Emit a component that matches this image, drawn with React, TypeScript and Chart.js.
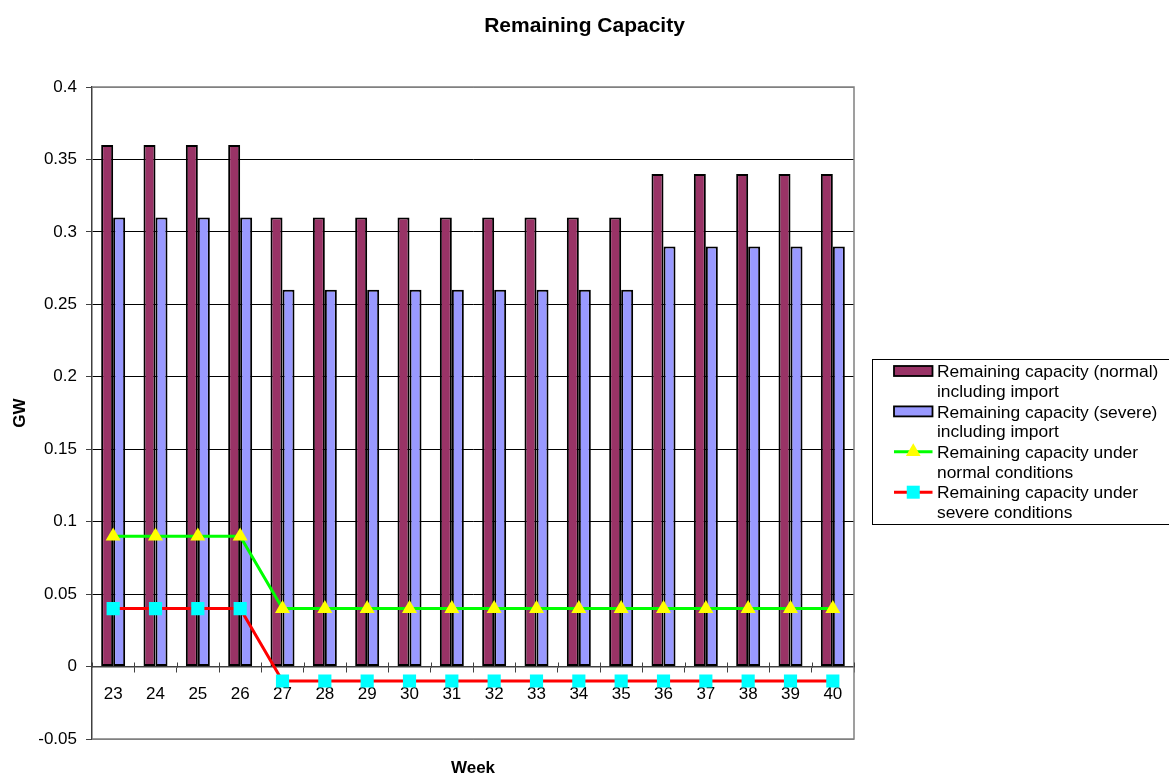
import React, { useEffect, useRef } from 'react';
import { Chart, registerables } from 'chart.js';

Chart.register(...registerables);

// ---- data ----
const weeks = ['23', '24', '25', '26', '27', '28', '29', '30', '31', '32', '33', '34', '35', '36', '37', '38', '39', '40'];
const normalIncludingImport = [0.36, 0.36, 0.36, 0.36, 0.31, 0.31, 0.31, 0.31, 0.31, 0.31, 0.31, 0.31, 0.31, 0.34, 0.34, 0.34, 0.34, 0.34];
const severeIncludingImport = [0.31, 0.31, 0.31, 0.31, 0.26, 0.26, 0.26, 0.26, 0.26, 0.26, 0.26, 0.26, 0.26, 0.29, 0.29, 0.29, 0.29, 0.29];
const normalConditions = [0.09, 0.09, 0.09, 0.09, 0.04, 0.04, 0.04, 0.04, 0.04, 0.04, 0.04, 0.04, 0.04, 0.04, 0.04, 0.04, 0.04, 0.04];
const severeConditions = [0.04, 0.04, 0.04, 0.04, -0.01, -0.01, -0.01, -0.01, -0.01, -0.01, -0.01, -0.01, -0.01, -0.01, -0.01, -0.01, -0.01, -0.01];
const yMin = -0.05;
const yMax = 0.4;
const yStep = 0.05;
const legendLines = [
  ['Remaining capacity (normal)', 'including import'],
  ['Remaining capacity (severe)', 'including import'],
  ['Remaining capacity under', 'normal conditions'],
  ['Remaining capacity under', 'severe conditions'],
];
const chartTitle = 'Remaining Capacity';
const xTitle = 'Week';
const yTitle = 'GW';

const FONT = '"Liberation Sans", Arial, Helvetica, sans-serif';
const C_NORMAL_BAR = '#993366';
const C_SEVERE_BAR = '#9999FF';
const C_GREEN = '#00FF00';
const C_YELLOW = '#FFFF00';
const C_RED = '#FF0000';
const C_CYAN = '#00FFFF';

const near = (a: number, b: number) => Math.abs(a - b) < 1e-9;

const framePlugin = {
  id: 'frame',
  beforeDatasetsDraw(chart: any) {
    const { ctx, chartArea, scales } = chart;
    ctx.save();
    ctx.strokeStyle = '#808080';
    ctx.lineWidth = 1.5;
    ctx.beginPath();
    ctx.moveTo(chartArea.left, chartArea.top);
    ctx.lineTo(chartArea.right, chartArea.top);
    ctx.lineTo(chartArea.right, chartArea.bottom);
    ctx.lineTo(chartArea.left, chartArea.bottom);
    ctx.stroke();
    // small upper halves of the category tick marks (Excel "cross" ticks)
    const y0 = Math.round(scales.y.getPixelForValue(0)) + 0.5;
    const x = scales.x;
    ctx.strokeStyle = '#404040';
    ctx.lineWidth = 1;
    ctx.beginPath();
    for (let i = 0; i <= weeks.length; i++) {
      const px = Math.round(x.left + (i * (x.right - x.left)) / weeks.length) + 0.5;
      ctx.moveTo(px, y0 - 5);
      ctx.lineTo(px, y0);
    }
    ctx.stroke();
    ctx.restore();
  },
};

const legendPlugin = {
  id: 'excelLegend',
  afterDraw(chart: any) {
    const { ctx, chartArea } = chart;
    const boxLeft = chartArea.right + 18.5;
    const boxTop = chartArea.top + 272.5;
    const boxW = 320;
    const boxH = 165;
    ctx.save();
    ctx.fillStyle = '#ffffff';
    ctx.fillRect(boxLeft, boxTop, boxW, boxH);
    ctx.strokeStyle = '#000000';
    ctx.lineWidth = 1;
    ctx.strokeRect(boxLeft, boxTop, boxW, boxH);

    const symL = boxLeft + 21.5;
    const symR = boxLeft + 60;
    const symC = (symL + symR) / 2;
    const textX = boxLeft + 64.5;
    const firstY = boxTop + 13;
    const itemStep = 40.4;
    const lineStep = 19.7;
    ctx.font = '17.4px ' + FONT;
    ctx.textBaseline = 'middle';
    ctx.textAlign = 'left';

    legendLines.forEach((lines, i) => {
      const y = firstY + i * itemStep;
      if (i < 2) {
        ctx.fillStyle = i === 0 ? C_NORMAL_BAR : C_SEVERE_BAR;
        ctx.fillRect(symL, y - 6.5, symR - symL, 10);
        ctx.strokeStyle = '#000000';
        ctx.lineWidth = 1.8;
        ctx.strokeRect(symL, y - 6.5, symR - symL, 10);
      } else {
        const ly = y - 1.5;
        ctx.strokeStyle = i === 2 ? C_GREEN : C_RED;
        ctx.lineWidth = 3;
        ctx.beginPath();
        ctx.moveTo(symL, ly);
        ctx.lineTo(symR, ly);
        ctx.stroke();
        if (i === 2) {
          const r = 8.5;
          ctx.fillStyle = C_YELLOW;
          ctx.beginPath();
          ctx.moveTo(symC, ly - r);
          ctx.lineTo(symC + r * 0.866, ly + r * 0.5);
          ctx.lineTo(symC - r * 0.866, ly + r * 0.5);
          ctx.closePath();
          ctx.fill();
        } else {
          ctx.fillStyle = C_CYAN;
          ctx.fillRect(symC - 6.5, ly - 6.5, 13, 13);
        }
      }
      ctx.fillStyle = '#000000';
      lines.forEach((t, j) => ctx.fillText(t, textX, y + j * lineStep));
    });
    ctx.restore();
  },
};

export default function App() {
  const canvasRef = useRef<HTMLCanvasElement | null>(null);

  useEffect(() => {
    const canvas = canvasRef.current;
    if (!canvas) return;
    Chart.defaults.font.family = FONT;
    Chart.defaults.color = '#000000';

    const chart = new Chart(canvas, {
      type: 'bar',
      data: {
        labels: weeks,
        datasets: [
          {
            type: 'bar',
            label: legendLines[0].join(' '),
            data: normalIncludingImport,
            backgroundColor: C_NORMAL_BAR,
            borderColor: '#000000',
            borderWidth: 2,
            borderSkipped: false,
            categoryPercentage: 0.567,
            barPercentage: 1,
            order: 2,
            xAxisID: 'x',
            yAxisID: 'y',
          },
          {
            type: 'bar',
            label: legendLines[1].join(' '),
            data: severeIncludingImport,
            backgroundColor: C_SEVERE_BAR,
            borderColor: '#000000',
            borderWidth: 2,
            borderSkipped: false,
            categoryPercentage: 0.567,
            barPercentage: 1,
            order: 3,
            xAxisID: 'x',
            yAxisID: 'y',
          },
          {
            type: 'line',
            label: legendLines[2].join(' '),
            data: normalConditions,
            borderColor: C_GREEN,
            borderWidth: 3,
            backgroundColor: C_YELLOW,
            pointStyle: 'triangle',
            pointRadius: 8.7,
            pointBorderWidth: 0,
            pointBackgroundColor: C_YELLOW,
            pointBorderColor: C_YELLOW,
            tension: 0,
            order: 1,
            xAxisID: 'x',
            yAxisID: 'y',
          },
          {
            type: 'line',
            label: legendLines[3].join(' '),
            data: severeConditions,
            borderColor: C_RED,
            borderWidth: 3,
            backgroundColor: C_CYAN,
            pointStyle: 'rect',
            pointRadius: 9.3,
            pointBorderWidth: 0,
            pointBackgroundColor: C_CYAN,
            pointBorderColor: C_CYAN,
            tension: 0,
            order: 0,
            xAxisID: 'x',
            yAxisID: 'y',
          },
        ] as any,
      },
      options: {
        animation: false,
        responsive: true,
        maintainAspectRatio: false,
        devicePixelRatio: 1,
        layout: { padding: 0 },
        plugins: {
          legend: { display: false },
          tooltip: { enabled: false },
          title: {
            display: true,
            text: chartTitle,
            color: '#000000',
            font: { size: 21, weight: 'bold', family: FONT },
            padding: { top: 14, bottom: 47.8 },
          },
        },
        scales: {
          x: {
            type: 'category',
            position: { y: 0 } as any,
            offset: true,
            grid: {
              display: true,
              offset: true,
              drawOnChartArea: false,
              drawTicks: true,
              tickLength: 5,
              color: '#404040',
              lineWidth: 1,
            },
            border: { display: true, color: '#404040', width: 1.5 },
            ticks: {
              font: { size: 17, family: FONT },
              color: '#000000',
              padding: 13,
              maxRotation: 0,
              autoSkip: false,
            },
          },
          x2: {
            type: 'category',
            axis: 'x',
            position: 'bottom',
            offset: true,
            grid: { display: false, drawTicks: false },
            border: { display: false },
            ticks: { display: false },
            title: {
              display: true,
              text: xTitle,
              color: '#000000',
              font: { size: 17, weight: 'bold', family: FONT },
              padding: { top: 19.1, bottom: -2.5 },
            },
          } as any,
          y: {
            type: 'linear',
            position: 'left',
            min: yMin,
            max: yMax,
            afterFit: (scale: any) => {
              scale.width = 92;
            },
            ticks: {
              stepSize: yStep,
              font: { size: 17, family: FONT },
              color: '#000000',
              padding: 9,
              callback: (v: any) => String(Math.round(Number(v) * 100) / 100),
            },
            grid: {
              drawTicks: true,
              tickLength: 6,
              lineWidth: 1,
              tickColor: '#404040',
              color: (c: any) => {
                const v = c.tick ? c.tick.value : 0;
                if (near(v, yMin) || near(v, yMax)) return '#808080';
                if (near(v, 0)) return 'rgba(0,0,0,0)';
                return '#000000';
              },
            },
            border: { display: true, color: '#404040', width: 1.5 },
            title: {
              display: true,
              text: yTitle,
              color: '#000000',
              font: { size: 17, weight: 'bold', family: FONT },
              padding: { top: 10, bottom: 0 },
            },
          },
          yRightSpace: {
            type: 'linear',
            axis: 'y',
            position: 'right',
            min: yMin,
            max: yMax,
            grid: { display: false, drawTicks: false },
            border: { display: false },
            ticks: { display: false },
            afterFit: (scale: any) => {
              scale.width = 315;
            },
          } as any,
        },
      } as any,
      plugins: [framePlugin, legendPlugin],
    });

    return () => {
      chart.destroy();
    };
  }, []);

  return (
    <div
      style={{
        position: 'fixed',
        left: 0,
        top: 0,
        width: 1169,
        height: 776,
        background: '#ffffff',
        overflow: 'hidden',
      }}
    >
      <canvas ref={canvasRef} />
    </div>
  );
}
